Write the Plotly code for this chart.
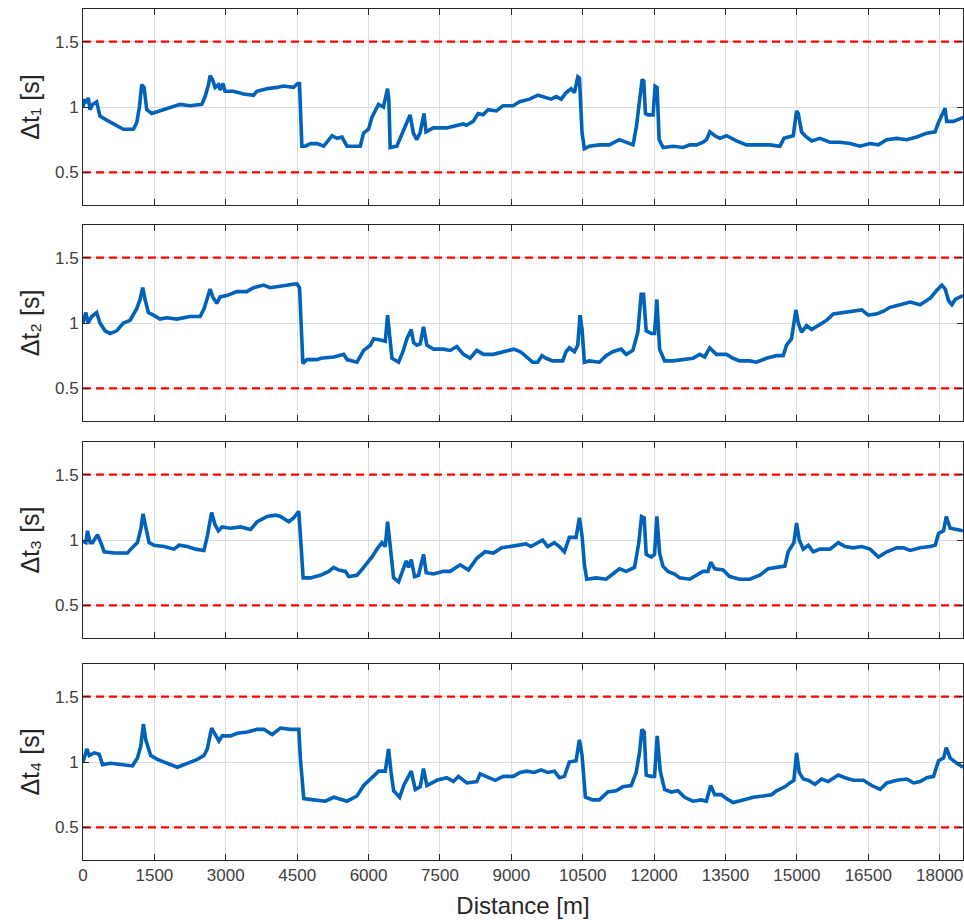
import plotly.graph_objects as go

# ---------------- data ----------------
x1 = [0, 40, 77, 110, 147, 200, 287, 357, 498, 708, 848, 1059, 1129, 1185, 1234, 1283, 1339, 1444, 1619, 1900,
      2040, 2250, 2496, 2566, 2636, 2671, 2720, 2776, 2846, 2881, 2937, 2986, 3162, 3372, 3582, 3652, 3863, 4073,
      4213, 4423, 4514, 4549, 4599, 4669, 4780, 4919, 5058, 5233, 5337, 5442, 5547, 5826, 5895, 6000, 6070, 6209,
      6314, 6398, 6426, 6454, 6593, 6698, 6789, 6872, 6942, 7012, 7081, 7165, 7207, 7360, 7640, 7849, 7988, 8058,
      8198, 8302, 8407, 8512, 8686, 8826, 9035, 9175, 9384, 9558, 9733, 9837, 9942, 10047, 10151, 10256, 10326,
      10396, 10431, 10486, 10535, 10640, 10849, 11058, 11268, 11442, 11558, 11628, 11698, 11748, 11783, 11818,
      11874, 11979, 12021, 12063, 12105, 12189, 12400, 12610, 12750, 12890, 13030, 13101, 13171, 13276, 13381,
      13521, 13731, 13942, 14152, 14432, 14643, 14727, 14923, 14993, 15028, 15098, 15168, 15309, 15484, 15694,
      15905, 16115, 16325, 16536, 16711, 16886, 17097, 17307, 17517, 17728, 17903, 17973, 18113, 18148, 18288, 18498]
dt1 = [1.00, 1.06, 1.03, 1.07, 0.98, 1.02, 1.04, 0.93, 0.90, 0.86, 0.83, 0.83, 0.88, 1.00, 1.17, 1.15, 0.98, 0.95, 0.97, 1.00,
       1.02, 1.01, 1.02, 1.08, 1.17, 1.24, 1.21, 1.15, 1.17, 1.13, 1.18, 1.12, 1.12, 1.10, 1.09, 1.12, 1.14, 1.15,
       1.16, 1.15, 1.18, 1.18, 0.70, 0.70, 0.72, 0.72, 0.70, 0.78, 0.76, 0.77, 0.70, 0.70, 0.80, 0.83, 0.92, 1.02,
       1.00, 1.14, 1.06, 0.69, 0.70, 0.79, 0.87, 0.94, 0.80, 0.75, 0.80, 0.95, 0.81, 0.84, 0.84, 0.86, 0.87, 0.86,
       0.89, 0.95, 0.94, 0.98, 0.97, 1.01, 1.01, 1.04, 1.06, 1.09, 1.07, 1.06, 1.08, 1.06, 1.11, 1.14, 1.11,
       1.23, 1.22, 0.80, 0.68, 0.70, 0.71, 0.71, 0.75, 0.73, 0.71, 0.85, 1.06, 1.21, 1.20, 0.95,
       0.94, 0.94, 1.16, 1.15, 0.75, 0.69, 0.70, 0.69, 0.71, 0.71, 0.73, 0.75, 0.81, 0.78, 0.76,
       0.78, 0.74, 0.71, 0.71, 0.71, 0.70, 0.76, 0.78, 0.97, 0.95, 0.81, 0.78, 0.74, 0.76, 0.73,
       0.73, 0.72, 0.70, 0.72, 0.71, 0.75, 0.76, 0.75, 0.77, 0.80, 0.81, 0.88, 0.99, 0.89, 0.89, 0.92]

x2 = [0, 60, 110, 183, 287, 357, 463, 568, 708, 848, 989, 1129, 1199, 1255, 1304, 1374, 1479, 1619, 1760, 1970,
      2250, 2461, 2545, 2671, 2727, 2811, 2881, 3021, 3232, 3442, 3582, 3793, 3933, 4143, 4353, 4494, 4550, 4585,
      4620, 4704, 4914, 5000, 5268, 5478, 5548, 5757, 5897, 6037, 6107, 6246, 6351, 6400, 6442, 6491, 6631, 6722,
      6806, 6897, 6946, 7015, 7085, 7155, 7225, 7365, 7575, 7715, 7854, 7994, 8134, 8274, 8414, 8623, 8833, 9052,
      9192, 9306, 9447, 9552, 9644, 9728, 9868, 10079, 10149, 10219, 10325, 10395, 10444, 10486, 10535, 10640,
      10851, 10991, 11132, 11307, 11413, 11553, 11658, 11728, 11777, 11834, 11939, 12009, 12058, 12115, 12220,
      12395, 12606, 12817, 12957, 13062, 13168, 13308, 13519, 13659, 13799, 14010, 14150, 14361, 14572, 14712,
      14782, 14887, 14979, 15028, 15098, 15203, 15309, 15449, 15624, 15765, 15975, 16186, 16362, 16502, 16678,
      16818, 16958, 17169, 17380, 17590, 17801, 17941, 18047, 18117, 18187, 18257, 18327, 18490]
dt2 = [1.00, 1.08, 1.00, 1.05, 1.08, 1.00, 0.94, 0.92, 0.94, 1.00, 1.02, 1.11, 1.18, 1.27, 1.18, 1.08, 1.06, 1.03, 1.04, 1.03,
       1.05, 1.05, 1.11, 1.26, 1.20, 1.15, 1.20, 1.21, 1.24, 1.24, 1.27, 1.29, 1.27, 1.28, 1.29, 1.30, 1.27, 0.93,
       0.69, 0.72, 0.72, 0.73, 0.74, 0.76, 0.72, 0.70, 0.79, 0.83, 0.88, 0.87, 0.86, 1.06, 0.87, 0.73, 0.70, 0.78,
       0.88, 0.95, 0.85, 0.83, 0.84, 0.97, 0.83, 0.80, 0.80, 0.79, 0.82, 0.76, 0.73, 0.79, 0.76, 0.76, 0.78, 0.80,
       0.78, 0.74, 0.70, 0.70, 0.75, 0.73, 0.71, 0.71, 0.78, 0.81, 0.78, 0.83, 1.06, 0.95, 0.70, 0.71,
       0.70, 0.75, 0.78, 0.80, 0.76, 0.79, 0.93, 1.22, 1.22, 0.94, 0.92, 0.92, 1.18, 0.80, 0.71,
       0.71, 0.72, 0.73, 0.76, 0.74, 0.81, 0.76, 0.76, 0.73, 0.71, 0.71, 0.70, 0.73, 0.75, 0.75,
       0.83, 0.88, 1.10, 1.00, 0.93, 0.98, 0.95, 0.98, 1.02, 1.07, 1.08, 1.09, 1.10, 1.06, 1.07,
       1.09, 1.12, 1.14, 1.16, 1.14, 1.19, 1.25, 1.29, 1.26, 1.17, 1.14, 1.18, 1.21]

x3 = [0, 60, 95, 151, 200, 305, 375, 445, 654, 934, 1004, 1143, 1213, 1262, 1318, 1388, 1493, 1703, 1912, 2017,
      2192, 2367, 2542, 2612, 2702, 2772, 2842, 2926, 3101, 3310, 3520, 3660, 3870, 4044, 4149, 4324, 4429, 4534,
      4569, 4625, 4778, 4988, 5163, 5268, 5373, 5513, 5583, 5757, 5897, 5967, 6072, 6177, 6281, 6351, 6400, 6456,
      6526, 6631, 6701, 6792, 6841, 6897, 6967, 7050, 7155, 7211, 7365, 7575, 7715, 7924, 8099, 8274, 8449, 8623,
      8798, 8973, 9148, 9306, 9412, 9517, 9658, 9763, 9903, 10009, 10114, 10219, 10360, 10430, 10486, 10535,
      10584, 10781, 10991, 11132, 11272, 11413, 11588, 11679, 11735, 11791, 11834, 11939, 12009, 12058, 12115,
      12185, 12290, 12430, 12536, 12746, 12887, 13027, 13133, 13189, 13273, 13449, 13589, 13799, 14010, 14220,
      14396, 14572, 14747, 14817, 14937, 14993, 15049, 15133, 15239, 15344, 15484, 15695, 15870, 16011, 16186,
      16362, 16537, 16713, 16888, 17099, 17239, 17380, 17590, 17801, 17906, 17976, 18082, 18138, 18222, 18362, 18490]
dt3 = [0.99, 0.98, 1.07, 0.98, 0.98, 1.04, 0.98, 0.91, 0.90, 0.90, 0.93, 0.98, 1.08, 1.20, 1.10, 0.98, 0.96, 0.95, 0.93, 0.96,
       0.95, 0.93, 0.92, 1.03, 1.21, 1.12, 1.07, 1.10, 1.09, 1.10, 1.08, 1.14, 1.18, 1.19, 1.18, 1.14, 1.17, 1.22,
       1.03, 0.71, 0.71, 0.73, 0.76, 0.79, 0.77, 0.76, 0.72, 0.73, 0.79, 0.82, 0.87, 0.93, 0.98, 0.95, 1.14, 0.95,
       0.71, 0.68, 0.75, 0.84, 0.79, 0.85, 0.72, 0.73, 0.89, 0.75, 0.74, 0.76, 0.76, 0.81, 0.77, 0.86, 0.91, 0.90,
       0.94, 0.95, 0.96, 0.97, 0.95, 0.97, 1.00, 0.95, 0.98, 0.95, 0.91, 1.02, 1.02, 1.17, 1.03, 0.81,
       0.70, 0.71, 0.70, 0.74, 0.78, 0.76, 0.79, 0.98, 1.18, 1.17, 0.89, 0.87, 0.89, 1.18, 0.90,
       0.80, 0.76, 0.74, 0.71, 0.70, 0.73, 0.76, 0.76, 0.83, 0.78, 0.77, 0.72, 0.70, 0.70, 0.73,
       0.78, 0.79, 0.80, 0.91, 0.98, 1.13, 1.00, 0.93, 0.96, 0.91, 0.93, 0.93, 0.98, 0.95, 0.94,
       0.95, 0.93, 0.87, 0.91, 0.94, 0.94, 0.92, 0.94, 0.95, 0.96, 1.05, 1.07, 1.18, 1.09, 1.08, 1.07]

x4 = [0, 81, 130, 235, 340, 410, 585, 794, 1039, 1143, 1213, 1269, 1318, 1423, 1563, 1773, 1982, 2192, 2402, 2542,
      2612, 2702, 2786, 2856, 2926, 3101, 3241, 3450, 3660, 3800, 3975, 4149, 4359, 4534, 4569, 4639, 4848, 5093,
      5268, 5547, 5757, 5897, 6072, 6212, 6351, 6421, 6470, 6526, 6652, 6750, 6841, 6897, 6981, 7085, 7155, 7225,
      7435, 7644, 7784, 7889, 8064, 8274, 8344, 8484, 8659, 8833, 9043, 9183, 9322, 9482, 9622, 9763, 9903, 10009,
      10114, 10219, 10360, 10430, 10486, 10556, 10711, 10851, 11027, 11202, 11342, 11518, 11623, 11693, 11742,
      11791, 11834, 11939, 12009, 12065, 12129, 12220, 12360, 12501, 12641, 12817, 12992, 13097, 13189, 13273,
      13413, 13519, 13659, 13870, 14080, 14291, 14466, 14572, 14747, 14852, 14937, 14993, 15049, 15133, 15239,
      15379, 15519, 15659, 15870, 16011, 16186, 16397, 16572, 16748, 16888, 17099, 17309, 17450, 17590, 17731,
      17871, 17976, 18082, 18138, 18222, 18362, 18490]
dt4 = [1.00, 1.10, 1.05, 1.07, 1.06, 0.98, 0.99, 0.98, 0.97, 1.03, 1.12, 1.29, 1.17, 1.05, 1.02, 0.99, 0.96, 0.99, 1.02, 1.05,
       1.10, 1.26, 1.20, 1.16, 1.20, 1.20, 1.22, 1.23, 1.25, 1.25, 1.21, 1.26, 1.25, 1.25, 1.02, 0.72, 0.71, 0.70,
       0.73, 0.70, 0.74, 0.82, 0.88, 0.93, 0.93, 1.10, 0.93, 0.78, 0.73, 0.83, 0.89, 0.93, 0.79, 0.81, 0.95, 0.82,
       0.86, 0.88, 0.85, 0.89, 0.84, 0.85, 0.91, 0.89, 0.86, 0.89, 0.89, 0.92, 0.93, 0.92, 0.94, 0.92, 0.93, 0.88,
       0.89, 1.00, 1.01, 1.17, 1.05, 0.73, 0.71, 0.71, 0.77, 0.78, 0.81, 0.82, 0.92, 1.07, 1.25,
       1.23, 0.90, 0.89, 0.89, 1.20, 0.93, 0.79, 0.77, 0.78, 0.73, 0.70, 0.71, 0.70, 0.82, 0.75,
       0.75, 0.72, 0.69, 0.71, 0.73, 0.74, 0.75, 0.78, 0.81, 0.84, 0.86, 1.07, 0.92, 0.87, 0.86,
       0.83, 0.87, 0.85, 0.90, 0.88, 0.86, 0.86, 0.82, 0.79, 0.84, 0.86, 0.87, 0.84, 0.85, 0.88,
       0.89, 1.01, 1.03, 1.11, 1.03, 0.99, 0.96]

thresholds = [0.5, 1.5]
x_limits = [0, 18490]
y_limits = [0.25, 1.75]
x_ticks = [0, 1500, 3000, 4500, 6000, 7500, 9000, 10500, 12000, 13500, 15000, 16500, 18000]
y_ticks = [0.5, 1, 1.5]
y_tick_labels = ["0.5", "1", "1.5"]
y_titles = ["Δt₁ [s]", "Δt₂ [s]", "Δt₃ [s]", "Δt₄ [s]"]
x_title = "Distance [m]"

series = [(x1, dt1), (x2, dt2), (x3, dt3), (x4, dt4)]

# ---------------- figure ----------------
W, H = 964, 924
ml, mr, mt, mb = 83, 1, 9, 64
ph = H - mt - mb
panels_px = [(9, 205), (225, 421), (442, 638), (664, 860)]


def dom(top, bot):
    return [(H - mb - bot) / ph, (H - mb - top) / ph]


fig = go.Figure()
blue = "#0062B8"
red = "#FF0000"
axis_col = "#262626"
grid_col = "#DEDEDE"
font_family = "Liberation Sans, Arial, sans-serif"

for i, (xs, ys) in enumerate(series):
    k = "" if i == 0 else str(i + 1)
    xa, ya = "x" + k, "y" + k
    for t in thresholds:
        fig.add_trace(go.Scatter(x=x_limits, y=[t, t], mode="lines", xaxis=xa, yaxis=ya,
                                 line=dict(color=red, width=2.2, dash="8px,5px"),
                                 showlegend=False, hoverinfo="skip"))
    fig.add_trace(go.Scatter(x=xs, y=ys, mode="lines", xaxis=xa, yaxis=ya,
                             line=dict(color=blue, width=3.6),
                             showlegend=False))
    top, bot = panels_px[i]
    last = (i == 3)
    xaxis = dict(
        domain=[0, 1], range=x_limits, anchor=ya,
        tickvals=x_ticks, showticklabels=last,
        ticks="inside", ticklen=6, tickcolor=axis_col, tickwidth=1,
        showline=True, linecolor=axis_col, linewidth=1, mirror="ticks",
        showgrid=True, gridcolor=grid_col, gridwidth=1, zeroline=False,
        tickfont=dict(family=font_family, size=17, color="#404040"),
        fixedrange=True,
    )
    if last:
        xaxis["ticktext"] = [str(v) for v in x_ticks]
        xaxis["title"] = dict(text=x_title, font=dict(family=font_family, size=24, color=axis_col),
                              standoff=12)
    fig.layout["xaxis" + k] = xaxis
    fig.layout["yaxis" + k] = dict(
        domain=dom(top, bot), range=y_limits, anchor=xa,
        tickvals=y_ticks, ticktext=y_tick_labels, ticks="inside", ticklen=6, tickcolor=axis_col,
        showline=True, linecolor=axis_col, linewidth=1, mirror="ticks",
        showgrid=True, gridcolor=grid_col, gridwidth=1, zeroline=False,
        tickfont=dict(family=font_family, size=17, color="#404040"),
        title=dict(text=y_titles[i], font=dict(family=font_family, size=25, color=axis_col), standoff=8),
        fixedrange=True,
    )

fig.update_layout(
    width=W, height=H,
    margin=dict(l=ml, r=mr, t=mt, b=mb, autoexpand=False),
    paper_bgcolor="white", plot_bgcolor="white",
    showlegend=False,
)

fig.write_html("out.html", config={"displayModeBar": False})
